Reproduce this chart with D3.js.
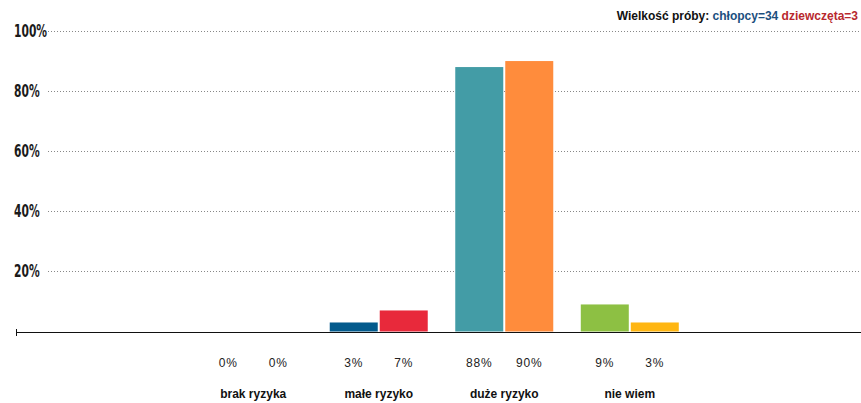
<!DOCTYPE html>
<html><head><meta charset="utf-8">
<script src="https://cdn.jsdelivr.net/npm/d3@7"></script>
<style>
body{margin:0;background:#fff;}
svg{display:block;}
</style></head>
<body>
<svg id="chart" width="861" height="403"></svg>
<script>
const categories = ["brak ryzyka", "małe ryzyko", "duże ryzyko", "nie wiem"];
const boys = [0, 3, 88, 9];
const girls = [0, 7, 90, 3];
const boysColors = ["#8a8a8a", "#035a8c", "#439ca6", "#8dc043"];
const girlsColors = ["#b0b0b0", "#e8293b", "#ff8c3c", "#ffb612"];
const yTicks = [20, 40, 60, 80, 100];
const sampleBoys = 34, sampleGirls = 3;

const svg = d3.select("#chart");
const y = d3.scaleLinear().domain([0, 100]).range([331.5, 31]);
const x0 = d3.scaleBand().domain(categories).range([21, 862]).paddingInner(0).paddingOuter(1.35);
const x1 = d3.scaleBand().domain(["b", "g"]).range([0, 98]).paddingInner(0.04);
const gx = c => x0(c) + x0.bandwidth() / 2 - 49;

// gridlines
svg.append("g").selectAll("line").data(yTicks).join("line")
  .attr("x1", 48).attr("x2", 861)
  .attr("y1", d => Math.round(y(d)) + 0.5).attr("y2", d => Math.round(y(d)) + 0.5)
  .attr("stroke", "#888").attr("stroke-width", 1).attr("stroke-dasharray", "1,2");

// y labels
svg.append("g").selectAll("text").data(yTicks).join("text")
  .attr("x", 14).attr("y", d => y(d) + 6)
  .attr("font-family", "'Liberation Sans Narrow', 'DejaVu Sans Condensed', sans-serif")
  .attr("font-size", 17).attr("font-weight", "bold").attr("fill", "#1a1a1a")
  .attr("transform", `translate(14,0) scale(0.7,1) translate(-14,0)`)
  .text(d => d + "%");

// bars
const rows = categories.map((c, i) => ({c, i}));
const g = svg.append("g");
g.selectAll("rect.b").data(rows).join("rect").attr("class", "b")
  .attr("x", d => gx(d.c) + x1("b")).attr("width", x1.bandwidth())
  .attr("y", d => y(boys[d.i])).attr("height", d => y(0) - y(boys[d.i]))
  .attr("fill", d => boysColors[d.i]);
g.selectAll("rect.g").data(rows).join("rect").attr("class", "g")
  .attr("x", d => gx(d.c) + x1("g")).attr("width", x1.bandwidth())
  .attr("y", d => y(girls[d.i])).attr("height", d => y(0) - y(girls[d.i]))
  .attr("fill", d => girlsColors[d.i]);

// axis line
const ax = svg.append("g");
ax.append("line").attr("x1", 16).attr("x2", 861).attr("y1", 332.5).attr("y2", 332.5)
  .attr("stroke", "#111").attr("stroke-width", 1.2);
ax.append("line").attr("x1", 16.5).attr("x2", 16.5).attr("y1", 329).attr("y2", 336)
  .attr("stroke", "#111").attr("stroke-width", 1);

// value labels
const vl = svg.append("g").attr("font-family", "'Liberation Sans', Arial, sans-serif")
  .attr("font-size", 12).attr("fill", "#222").attr("text-anchor", "middle").attr("letter-spacing", 0.8);
vl.selectAll("text.b").data(rows).join("text").attr("class", "b")
  .attr("x", d => gx(d.c) + x1("b") + x1.bandwidth() / 2).attr("y", 367)
  .text(d => boys[d.i] + "%");
vl.selectAll("text.g").data(rows).join("text").attr("class", "g")
  .attr("x", d => gx(d.c) + x1("g") + x1.bandwidth() / 2).attr("y", 367)
  .text(d => girls[d.i] + "%");

// category labels
svg.append("g").selectAll("text").data(categories).join("text")
  .attr("x", d => x0(d) + x0.bandwidth() / 2).attr("y", 398)
  .attr("text-anchor", "middle")
  .attr("font-family", "'Liberation Sans', Arial, sans-serif")
  .attr("font-size", 12).attr("font-weight", "bold").attr("fill", "#111")
  .text(d => d);

// title
const t = svg.append("text").attr("x", 858).attr("y", 20).attr("text-anchor", "end")
  .attr("font-family", "'Liberation Sans', Arial, sans-serif")
  .attr("font-size", 12).attr("font-weight", "bold");
t.append("tspan").attr("fill", "#111").text("Wielkość próby: ");
t.append("tspan").attr("fill", "#1c4f7e").text("chłopcy=" + sampleBoys);
t.append("tspan").attr("fill", "#b8282e").text(" dziewczęta=" + sampleGirls);
</script>
</body></html>
